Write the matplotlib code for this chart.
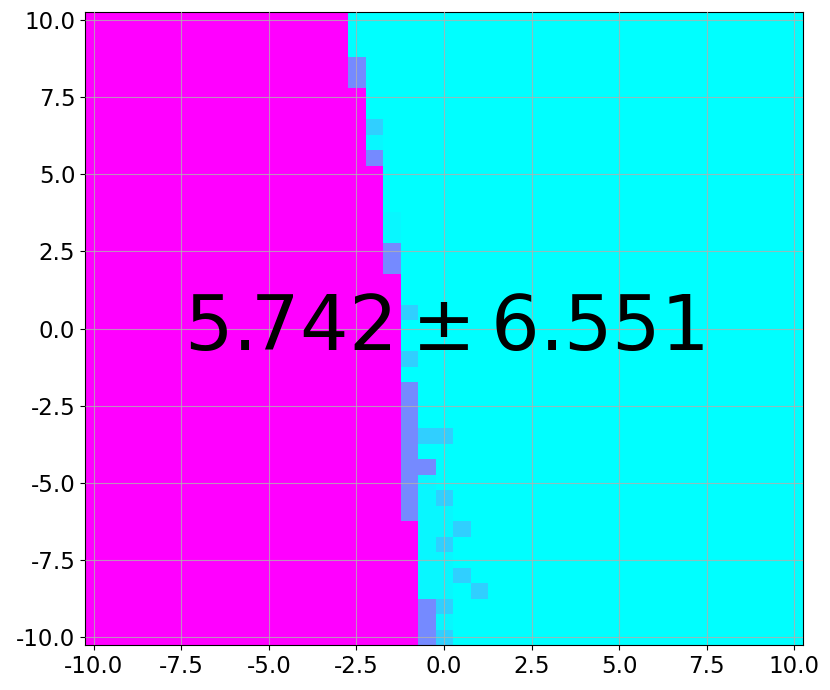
import numpy as np
import matplotlib.pyplot as plt

plt.rcParams['axes.unicode_minus'] = False

# grid centres, step 0.5 from -10 to 10
xs = np.arange(-10, 10.01, 0.5)
ys = np.arange(10, -10.01, -0.5)

# first non-magenta column for every row (top row first)
first_cyan_col = [15, 15, 15, 15, 15,
                  16, 16, 16, 16, 16,
                  17, 17, 17, 17, 17, 17, 17,
                  18, 18, 18, 18, 18, 18, 18, 18, 18, 18, 18, 18, 18, 18, 18, 18,
                  19, 19, 19, 19, 19, 19, 19, 19]

# mixed cells: (row, col)
purple_cells = [(3, 15), (4, 15), (9, 16), (15, 17), (16, 17),
                (24, 18), (25, 18), (26, 18), (27, 18), (28, 18), (29, 18),
                (30, 18), (31, 18), (32, 18), (29, 19),
                (38, 19), (39, 19), (40, 19)]
light_cells = [(7, 16), (19, 18), (22, 18), (27, 19), (27, 20), (31, 20),
               (33, 21), (34, 20), (36, 21), (37, 22), (38, 20), (40, 20)]
faint_cells = [(8, 16), (13, 17), (14, 17),
               (30, 19), (31, 19), (32, 19), (33, 19), (34, 19), (35, 19),
               (36, 19), (37, 19), (32, 20), (33, 20), (35, 20), (36, 20),
               (37, 20), (39, 20)]

val_purple = 0.46
val_light = 0.19
val_faint = 0.035

Z = np.zeros((len(ys), len(xs)))
for r, c in enumerate(first_cyan_col):
    Z[r, :c] = 1.0
for r, c in faint_cells:
    Z[r, c] = val_faint
for r, c in light_cells:
    Z[r, c] = val_light
for r, c in purple_cells:
    Z[r, c] = val_purple

fig = plt.figure(figsize=(8.3, 6.9), dpi=100)
ax = fig.add_axes([0.1024, 0.0652, 0.8651, 0.9174])
ax.imshow(Z, cmap='cool', vmin=0, vmax=1, interpolation='nearest',
          extent=(-10.25, 10.25, -10.25, 10.25), aspect='auto', origin='upper')
ax.set_xticks(np.arange(-10, 10.1, 2.5))
ax.set_yticks(np.arange(-10, 10.1, 2.5))
ax.tick_params(labelsize=16.5)
ax.grid(True, color='#b0b0b0', linewidth=0.8, alpha=0.8)
ax.set_axisbelow(False)
ax.text(0, 0, r'$5.742 \pm 6.551$', fontsize=55, ha='center', va='center')

plt.savefig('out.png')
